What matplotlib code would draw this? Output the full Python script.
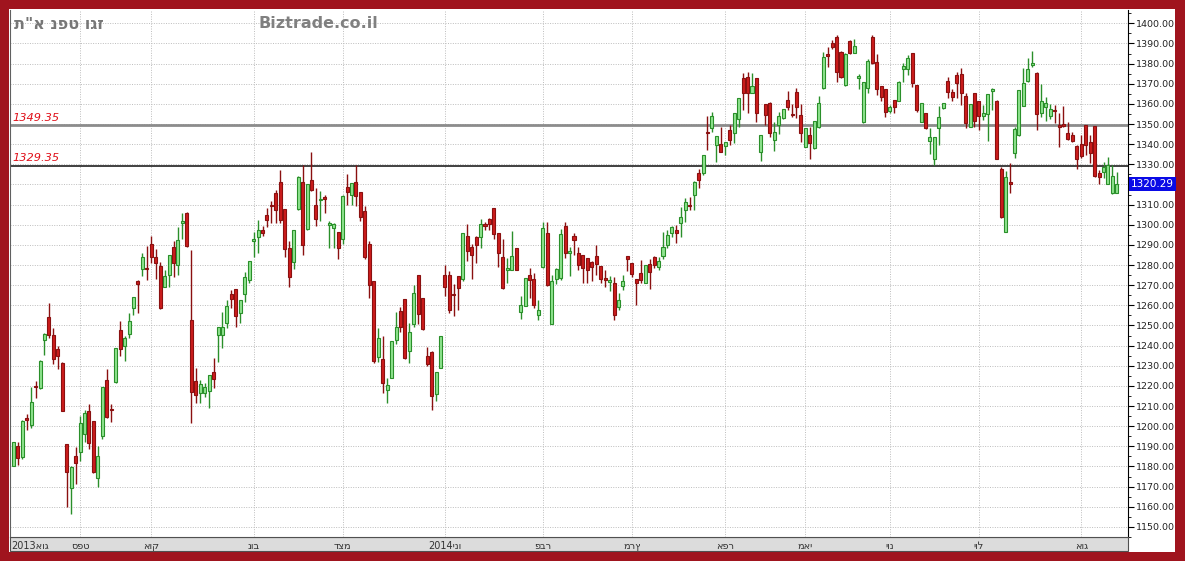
import matplotlib.pyplot as plt
import numpy as np
from matplotlib.patches import Rectangle

# OHLC values of the index, one trading day per entry (Aug 2013 - Aug 2014)
opens = [
    1180.4, 1190.0, 1184.5, 1203.9, 1200.7, 1220.1, 1218.8, 1242.7, 1254.0, 1245.4,
    1238.3, 1231.6, 1191.2, 1169.2, 1185.4, 1187.0, 1196.1, 1207.4, 1202.7, 1174.1,
    1195.0, 1222.7, 1208.5, 1221.7, 1247.9, 1239.9, 1245.7, 1258.9, 1272.1, 1277.9,
    1278.6, 1290.3, 1283.9, 1279.6, 1269.3, 1275.3, 1288.8, 1280.2, 1301.1, 1306.0,
    1252.7, 1222.5, 1216.7, 1216.7, 1217.7, 1226.9, 1245.3, 1245.3, 1251.1, 1265.6,
    1268.0, 1256.4, 1265.6, 1272.6, 1291.9, 1293.7, 1297.4, 1304.6, 1310.0, 1315.9,
    1321.2, 1307.6, 1288.3, 1281.7, 1307.6, 1321.3, 1297.7, 1322.0, 1309.6, 1312.4,
    1313.4, 1299.8, 1298.5, 1296.5, 1292.7, 1318.7, 1314.7, 1321.2, 1316.4, 1306.8,
    1290.2, 1272.1, 1234.4, 1233.6, 1218.2, 1223.8, 1242.6, 1257.2, 1263.0, 1237.4,
    1250.6, 1274.9, 1263.5, 1234.7, 1237.0, 1215.9, 1228.8, 1274.9, 1275.0, 1265.5,
    1274.5, 1272.9, 1294.4, 1288.9, 1293.9, 1293.9, 1300.5, 1303.1, 1308.1, 1296.0,
    1284.1, 1277.4, 1277.4, 1288.6, 1256.9, 1259.8, 1274.9, 1272.9, 1255.2, 1279.0,
    1296.0, 1250.9, 1272.9, 1273.4, 1299.5, 1285.9, 1294.5, 1285.9, 1284.9, 1283.4,
    1281.7, 1284.5, 1279.6, 1273.8, 1271.8, 1271.3, 1259.4, 1269.7, 1284.5, 1280.9,
    1273.0, 1275.9, 1271.3, 1280.6, 1284.2, 1278.9, 1284.5, 1290.0, 1295.8, 1297.4,
    1300.7, 1307.4, 1309.9, 1314.8, 1325.9, 1325.5, 1346.2, 1347.9, 1339.6, 1340.1,
    1339.1, 1347.0, 1345.4, 1352.3, 1372.6, 1373.1, 1365.5, 1372.6, 1336.3, 1359.9,
    1360.6, 1342.1, 1349.5, 1352.8, 1361.9, 1355.0, 1366.0, 1354.5, 1338.8, 1344.5,
    1337.9, 1348.3, 1367.7, 1384.7, 1390.0, 1393.0, 1385.9, 1369.3, 1391.3, 1385.4,
    1373.1, 1351.2, 1367.7, 1393.0, 1380.9, 1368.8, 1367.2, 1356.6, 1361.9, 1361.6,
    1377.1, 1377.1, 1385.4, 1369.3, 1351.2, 1355.6, 1341.7, 1332.5, 1347.9, 1357.8,
    1371.5, 1366.0, 1374.3, 1374.8, 1363.9, 1348.7, 1365.5, 1361.4, 1354.0, 1355.0,
    1366.5, 1361.6, 1327.5, 1296.6, 1321.0, 1335.8, 1344.5, 1358.9, 1371.5, 1379.1,
    1375.5, 1355.3, 1358.3, 1354.0, 1357.0, 1349.3, 1350.0, 1345.7, 1344.5, 1339.1,
    1340.1, 1349.5, 1341.2, 1349.0, 1325.9, 1326.4, 1320.2, 1315.6, 1316.0]
highs = [
    1192.3, 1192.0, 1203.2, 1206.0, 1219.3, 1222.6, 1232.9, 1246.2, 1261.1, 1248.5,
    1239.9, 1232.0, 1191.2, 1180.4, 1189.5, 1205.2, 1207.8, 1211.0, 1202.7, 1190.3,
    1219.5, 1228.3, 1211.0, 1238.8, 1252.3, 1244.9, 1256.4, 1264.0, 1272.5, 1285.9,
    1289.5, 1294.5, 1287.9, 1281.7, 1277.6, 1285.0, 1292.1, 1298.8, 1305.7, 1306.2,
    1287.4, 1228.8, 1223.0, 1221.3, 1225.4, 1233.7, 1249.2, 1256.5, 1262.6, 1267.6,
    1268.0, 1262.7, 1276.7, 1282.1, 1296.4, 1302.3, 1299.3, 1308.1, 1311.7, 1317.2,
    1327.4, 1307.7, 1291.9, 1297.3, 1324.1, 1329.6, 1320.1, 1336.2, 1318.3, 1316.7,
    1315.0, 1301.8, 1301.0, 1296.6, 1314.6, 1325.3, 1320.9, 1329.6, 1316.5, 1309.3,
    1291.9, 1272.2, 1248.6, 1244.8, 1224.1, 1242.4, 1256.9, 1259.2, 1263.1, 1251.4,
    1270.1, 1275.0, 1263.6, 1239.3, 1237.1, 1227.0, 1244.9, 1280.0, 1277.0, 1270.7,
    1274.6, 1295.8, 1300.5, 1290.2, 1294.4, 1303.1, 1301.5, 1303.2, 1308.4, 1296.1,
    1292.7, 1283.6, 1296.9, 1288.7, 1264.6, 1273.5, 1278.3, 1276.2, 1262.8, 1301.5,
    1301.5, 1275.0, 1278.7, 1297.7, 1301.5, 1289.2, 1296.1, 1288.8, 1285.0, 1283.5,
    1281.8, 1290.0, 1279.7, 1277.3, 1274.6, 1274.0, 1266.0, 1275.1, 1284.6, 1281.0,
    1273.1, 1282.6, 1280.0, 1282.9, 1284.5, 1284.2, 1296.6, 1297.4, 1299.4, 1299.9,
    1309.0, 1313.1, 1314.0, 1321.5, 1327.5, 1334.7, 1354.0, 1356.1, 1344.2, 1348.7,
    1341.3, 1349.5, 1355.4, 1362.8, 1375.5, 1376.0, 1375.5, 1372.7, 1344.6, 1360.0,
    1361.1, 1351.2, 1356.1, 1357.5, 1366.5, 1359.9, 1367.7, 1359.9, 1348.0, 1348.7,
    1351.7, 1363.9, 1385.9, 1388.3, 1391.7, 1394.1, 1386.0, 1385.1, 1391.7, 1392.0,
    1374.8, 1371.1, 1382.1, 1394.1, 1384.7, 1368.9, 1367.3, 1359.4, 1362.0, 1371.5,
    1380.1, 1384.2, 1385.5, 1369.4, 1360.3, 1355.7, 1347.9, 1343.5, 1358.9, 1360.3,
    1373.5, 1367.2, 1376.0, 1377.6, 1365.5, 1360.0, 1365.6, 1361.5, 1359.4, 1365.0,
    1367.7, 1361.7, 1328.8, 1326.9, 1330.8, 1348.7, 1367.0, 1377.6, 1382.6, 1386.4,
    1375.6, 1369.8, 1363.6, 1359.9, 1359.4, 1355.3, 1358.9, 1351.2, 1346.2, 1339.6,
    1344.5, 1349.6, 1344.5, 1349.1, 1327.2, 1331.3, 1333.8, 1329.7, 1326.4]
lows = [
    1180.0, 1180.7, 1183.7, 1198.3, 1198.9, 1213.8, 1218.4, 1235.3, 1243.6, 1230.8,
    1228.3, 1207.3, 1159.8, 1156.4, 1171.3, 1182.9, 1192.0, 1188.7, 1176.8, 1169.7,
    1193.6, 1204.2, 1201.9, 1221.4, 1235.0, 1232.5, 1243.6, 1255.1, 1256.4, 1274.6,
    1272.6, 1280.9, 1273.3, 1258.4, 1269.0, 1269.0, 1274.3, 1275.0, 1293.1, 1289.0,
    1201.5, 1211.4, 1211.4, 1214.4, 1208.9, 1218.8, 1232.1, 1238.7, 1248.6, 1258.5,
    1249.4, 1251.1, 1261.8, 1270.9, 1284.1, 1285.8, 1294.4, 1299.0, 1300.7, 1300.7,
    1300.7, 1284.1, 1269.1, 1277.9, 1307.5, 1285.0, 1297.2, 1316.7, 1299.3, 1302.1,
    1306.0, 1288.6, 1288.3, 1282.8, 1290.2, 1309.8, 1309.8, 1309.3, 1301.8, 1282.8,
    1263.5, 1231.6, 1232.1, 1216.7, 1211.7, 1223.7, 1240.7, 1246.9, 1233.2, 1231.6,
    1249.3, 1250.9, 1247.9, 1229.9, 1207.9, 1212.6, 1228.7, 1264.6, 1256.4, 1254.7,
    1257.5, 1272.1, 1282.0, 1272.9, 1281.2, 1288.3, 1297.2, 1297.2, 1292.7, 1279.0,
    1268.3, 1271.2, 1277.3, 1277.4, 1253.1, 1259.7, 1263.8, 1258.8, 1252.6, 1278.7,
    1269.6, 1250.8, 1270.7, 1272.4, 1283.6, 1274.6, 1285.0, 1277.6, 1271.0, 1271.3,
    1272.3, 1275.1, 1271.0, 1269.0, 1266.9, 1252.5, 1257.8, 1267.4, 1276.8, 1274.3,
    1260.2, 1271.0, 1271.0, 1268.0, 1278.4, 1277.3, 1282.9, 1288.3, 1293.8, 1290.8,
    1294.1, 1301.6, 1307.4, 1307.4, 1318.1, 1324.7, 1337.1, 1346.2, 1331.3, 1336.2,
    1334.6, 1339.6, 1340.4, 1348.7, 1356.9, 1355.6, 1365.4, 1351.2, 1331.8, 1349.5,
    1343.7, 1336.8, 1345.0, 1352.3, 1357.0, 1353.6, 1352.8, 1341.2, 1338.7, 1332.5,
    1337.4, 1348.2, 1367.2, 1378.4, 1387.0, 1371.0, 1372.6, 1368.8, 1385.0, 1385.3,
    1367.2, 1350.7, 1365.2, 1379.8, 1364.4, 1361.6, 1353.3, 1355.3, 1355.3, 1361.5,
    1371.0, 1374.3, 1368.2, 1356.1, 1351.1, 1347.4, 1335.1, 1329.7, 1339.6, 1357.3,
    1362.7, 1361.6, 1362.7, 1359.4, 1347.9, 1348.6, 1348.7, 1347.0, 1352.0, 1341.7,
    1357.0, 1332.4, 1303.2, 1296.5, 1315.6, 1333.0, 1344.0, 1358.8, 1371.0, 1378.1,
    1347.0, 1353.3, 1351.7, 1352.3, 1350.3, 1338.8, 1348.7, 1342.1, 1341.2, 1327.5,
    1332.9, 1334.6, 1330.5, 1323.9, 1320.2, 1323.1, 1320.1, 1315.3, 1315.7]
closes = [
    1192.0, 1184.0, 1202.7, 1203.2, 1211.8, 1219.3, 1232.6, 1245.7, 1245.2, 1233.6,
    1235.0, 1207.7, 1177.4, 1179.6, 1181.7, 1201.4, 1206.4, 1191.7, 1177.1, 1185.0,
    1219.3, 1204.4, 1208.0, 1238.6, 1238.3, 1243.6, 1252.0, 1263.9, 1270.5, 1283.9,
    1277.9, 1283.9, 1280.9, 1258.6, 1274.6, 1284.9, 1281.2, 1292.5, 1302.0, 1289.4,
    1217.2, 1215.5, 1220.8, 1219.5, 1225.3, 1223.6, 1249.1, 1249.1, 1259.7, 1263.0,
    1254.7, 1262.6, 1273.9, 1282.0, 1293.1, 1297.4, 1295.7, 1302.6, 1309.4, 1307.3,
    1302.6, 1287.8, 1274.0, 1297.2, 1323.6, 1289.9, 1320.0, 1317.4, 1303.1, 1312.9,
    1313.1, 1300.7, 1300.2, 1288.6, 1314.5, 1316.4, 1320.8, 1314.2, 1303.8, 1284.0,
    1270.1, 1232.4, 1243.6, 1221.2, 1220.5, 1242.3, 1249.3, 1249.3, 1234.0, 1246.9,
    1266.3, 1255.9, 1248.1, 1231.1, 1215.0, 1226.9, 1244.8, 1269.1, 1257.5, 1265.0,
    1268.4, 1295.7, 1286.9, 1285.0, 1289.9, 1300.2, 1299.5, 1300.2, 1295.2, 1285.8,
    1268.4, 1278.7, 1284.5, 1277.5, 1260.2, 1273.4, 1272.4, 1260.2, 1257.7, 1298.2,
    1270.1, 1272.1, 1278.0, 1295.5, 1286.1, 1287.0, 1292.5, 1280.1, 1278.4, 1277.3,
    1278.9, 1280.4, 1273.0, 1272.6, 1272.6, 1255.3, 1262.7, 1272.3, 1282.9, 1275.6,
    1271.3, 1272.6, 1279.9, 1276.3, 1280.1, 1281.9, 1289.2, 1295.0, 1299.1, 1295.8,
    1303.7, 1311.5, 1309.5, 1321.4, 1322.2, 1334.6, 1345.4, 1354.0, 1344.1, 1336.3,
    1341.2, 1342.1, 1355.3, 1362.7, 1365.5, 1365.5, 1368.8, 1355.3, 1344.5, 1354.5,
    1345.4, 1346.2, 1354.0, 1357.4, 1358.3, 1354.6, 1358.3, 1345.4, 1347.9, 1340.4,
    1351.6, 1360.2, 1383.4, 1383.7, 1388.0, 1376.0, 1373.5, 1385.0, 1385.4, 1388.7,
    1373.5, 1371.0, 1381.4, 1380.1, 1367.2, 1363.2, 1356.1, 1358.3, 1358.6, 1371.0,
    1378.8, 1382.6, 1370.5, 1356.9, 1360.2, 1347.9, 1343.7, 1343.4, 1353.3, 1360.2,
    1366.0, 1363.2, 1370.5, 1365.2, 1350.3, 1359.9, 1351.7, 1354.0, 1355.6, 1364.9,
    1367.3, 1332.5, 1303.7, 1323.6, 1320.3, 1347.4, 1366.9, 1370.2, 1377.1, 1380.4,
    1355.0, 1361.6, 1360.6, 1357.3, 1356.6, 1348.7, 1349.0, 1342.4, 1341.7, 1332.5,
    1334.1, 1339.6, 1335.5, 1324.2, 1323.9, 1328.5, 1329.7, 1324.2, 1320.29]

# first trading day of each month (index into the series)
month_idx = [15, 31, 54, 74, 97, 119, 139, 160, 178, 197, 217, 240]
month_names = ['ספט', 'אוק', 'נוב', 'דצמ', 'ינו', 'פבר', 'מרץ', 'אפר', 'מאי', 'יונ', 'יול', 'אוג']
month_years = ['', '', '', '', '2014', '', '', '', '', '', '', '']
first_month = ('2013', 'אוג')
levels = [1349.35, 1329.35]
title = 'ת"א נפט וגז'
site = 'Biztrade.co.il'

W, H = 1185, 561
fig = plt.figure(figsize=(W / 100, H / 100), dpi=100, facecolor='#A0141E')
fig.add_artist(Rectangle((9 / W, 9 / H), 1166 / W, 543 / H, transform=fig.transFigure,
                         facecolor='white', edgecolor='none', zorder=-3))
fig.add_artist(Rectangle((10 / W, 10 / H), 1118 / W, 14 / H, transform=fig.transFigure,
                         facecolor='#DCDCDC', edgecolor='#505050', lw=0.8, zorder=-2))
ax = fig.add_axes([10 / W, 24 / H, 1118 / W, 527 / H])

o, h, l, c = (np.array(a) for a in (opens, highs, lows, closes))
x = np.arange(len(c))
up = c >= o
body = np.where(up, '#8FE48F', '#CC1C1C')
edge = np.where(up, '#2A8F2A', '#8A1010')
hgt = np.maximum(np.abs(c - o), 0.7)
bot = np.minimum(o, c) - (hgt - np.abs(c - o)) / 2
ax.vlines(x, l, h, colors=edge, lw=1, zorder=2)
ax.bar(x, hgt, bottom=bot, width=0.68, color=body, edgecolor=edge, linewidth=0.8, zorder=3)

# support / resistance lines
ax.axhline(levels[0], color='#8C8C8C', lw=2, zorder=1.5)
ax.axhline(levels[1], color='#202020', lw=1.2, zorder=1.5)
for v in levels:
    ax.annotate(f'{v:.2f}', xy=(0, v), xycoords=('axes fraction', 'data'),
                xytext=(2, 2), textcoords='offset points', ha='left', va='bottom',
                fontsize=8.2, style='italic', color='#E0101A')

ax.set_xlim(-0.75, 250.5)
ax.set_ylim(1145.2, 1406.6)

ax.yaxis.tick_right()
ax.set_yticks(np.arange(1150, 1401, 10))
ax.set_yticks(np.arange(1145, 1406, 5), minor=True)
ax.yaxis.set_major_formatter('{x:.2f}')
ax.tick_params(axis='y', which='major', length=4, width=0.8, pad=1.5, labelsize=6.8,
               color='black', labelcolor='#222222')
ax.tick_params(axis='y', which='minor', length=2, width=0.6, color='black')

ax.set_xticks(month_idx)
ax.set_xticklabels([yr + m for yr, m in zip(month_years, month_names)],
                   fontsize=7, color='#333333')
ax.tick_params(axis='x', length=0, pad=3)
ax.annotate(first_month[0] + first_month[1], xy=(-0.5, 0),
            xycoords=('data', 'axes fraction'), xytext=(0, -3), textcoords='offset points',
            ha='left', va='top', fontsize=7, color='#333333')

ax.set_axisbelow(True)
ax.grid(True, color='#BDBDBD', linestyle=(0, (1, 1.5)), lw=0.7)
ax.spines['top'].set_visible(False)
ax.spines['left'].set_color('#606060')
ax.spines['bottom'].set_color('#505050')
ax.spines['right'].set_color('black')

# last price marker on the price axis
ax.annotate(f'{closes[-1]:.2f}', xy=(1, closes[-1]), xycoords=('axes fraction', 'data'),
            xytext=(2, 0), textcoords='offset points', ha='left', va='center',
            fontsize=7.5, color='white', annotation_clip=False, zorder=5,
            bbox=dict(boxstyle='square,pad=0.2', fc='#0A0AE6', ec='none'))

fig.text(14 / W, 1 - 24 / H, title, fontsize=11.5, fontweight='bold',
         color='#777777', ha='left', va='center')
fig.text(258 / W, 1 - 24 / H, site, fontsize=11.5, fontweight='bold',
         color='#808080', ha='left', va='center')

fig.savefig('out.png', dpi=100, facecolor=fig.get_facecolor())
